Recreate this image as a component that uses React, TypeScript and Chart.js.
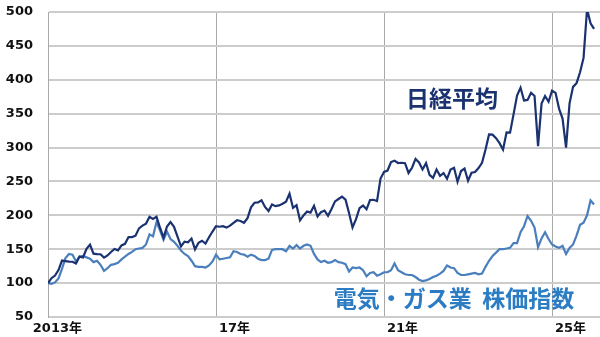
import React, { useEffect, useRef } from "react";
import { Chart, registerables } from "chart.js";

Chart.register(...registerables);

// Month index 0 = Dec 2012 (base = 100), monthly to Dec 2025
const nikkei: number[] = [
  100,
  107.2, 111.2, 119.3, 133.3, 132.5, 131.6, 131.5, 128.8, 139.1, 137.8, 150.7, 156.7,
  143.5, 142.8, 142.6, 137.6, 140.8, 145.9, 150.3, 148.4, 155.6, 157.9, 168, 167.9,
  170, 180.8, 184.8, 187.8, 197.8, 194.7, 198, 181.7, 167.3, 183.6, 190, 183.1,
  168.5, 154.2, 161.2, 160.3, 165.8, 149.8, 159.4, 162.5, 158.3, 167.6, 176.1, 183.9,
  183.2, 183.9, 181.9, 184.7, 189, 192.7, 191.7, 189, 195.8, 211.8, 218.6, 219,
  222.2, 212.3, 206.4, 216.1, 213.6, 214.6, 217, 220, 232, 210.9, 215, 192.5,
  199.8, 205.7, 204, 214.1, 198.2, 204.7, 207, 199.2, 209.3, 220.6, 224.1, 227.6,
  223.2, 203.4, 182, 194.3, 210.5, 214.4, 208.9, 222.6, 223, 221, 254.3, 264,
  266.1, 278.7, 280.7, 277.2, 277.6, 277, 262.5, 270.2, 283.3, 278, 267.7, 277,
  259.8, 255.2, 267.6, 258.3, 262.4, 253.9, 267.5, 270.2, 249.5, 265.4, 269.1, 251,
  262.9, 264, 269.8, 277.6, 297.2, 319.3, 319.1, 313.8, 306.5, 296.9, 322.2, 321.9,
  349, 376.8, 388.4, 369.5, 370.3, 380.8, 376.2, 302, 364.8, 376, 367.6, 383.8,
  380.7, 357.5, 342.7, 300, 365.2, 389.5, 395, 411, 432.3, 504.2, 483.4, 475,
];

const electricGas: number[] = [
  100,
  99, 101, 107, 121, 137, 143, 142, 132, 139, 140, 138, 136,
  131, 133, 127, 118, 122, 127, 128, 130, 135, 139, 143, 146,
  150, 151, 152, 157, 172, 169, 190, 178, 164, 176, 165, 161,
  155, 148, 143, 140, 133, 125, 124, 124, 123, 126, 132, 142,
  135, 136, 137, 138, 147, 146, 143, 142, 139, 142, 140, 136,
  134, 134, 136, 149, 150, 150, 150, 147, 155, 151, 156, 151,
  155, 157, 155, 143, 135, 131, 133, 130, 131, 134, 131, 130,
  128, 117, 123, 122, 123, 119, 110, 115, 116, 111, 113, 116,
  116, 119, 129, 119, 116, 113, 112, 112, 109, 105, 103, 104,
  106, 109, 111, 114, 118, 126, 123, 122, 115, 112, 112, 113,
  114, 115, 113, 114, 124, 133, 140, 145, 150, 150, 151, 152,
  159, 159, 175, 184, 199, 192, 182, 153, 166, 175, 165, 157,
  154, 152, 155, 143, 152, 157, 170, 186, 189, 200, 222, 216,
];

const xTickValues: number[] = [0, 48, 96, 144];
const xTickLabels: string[] = ["2013年", "17年", "21年", "25年"];

const seriesNames: string[] = ["日経平均", "電気・ガス業  株価指数"];
// label anchor in data coordinates [monthIndex, value]
const labelAnchors: number[][] = [
  [115.4, 372],
  [116, 78],
];

const NAVY = "#1b3270";
const LINE_BLUE = "#4a7fbd";
const TEXT_BLUE = "#2b7cc3";

const labelPlugin = {
  id: "seriesLabels",
  afterDatasetsDraw(chart: any) {
    const { ctx, scales } = chart;
    const colors = [NAVY, TEXT_BLUE];
    ctx.save();
    ctx.font = 'bold 23px "Noto Sans CJK JP", "DejaVu Sans", sans-serif';
    ctx.textAlign = "center";
    ctx.textBaseline = "middle";
    seriesNames.forEach((name, i) => {
      const px = scales.x.getPixelForValue(labelAnchors[i][0]);
      const py = scales.y.getPixelForValue(labelAnchors[i][1]);
      ctx.fillStyle = colors[i];
      ctx.fillText(name, px, py);
    });
    ctx.restore();
  },
};

export default function App() {
  const ref = useRef<HTMLCanvasElement | null>(null);

  useEffect(() => {
    if (!ref.current) return;
    const chart = new Chart(ref.current, {
      type: "line",
      data: {
        datasets: [
          {
            label: seriesNames[0],
            data: nikkei.map((v, i) => ({ x: i, y: v })),
            borderColor: NAVY,
            borderWidth: 2.2,
            pointRadius: 0,
            tension: 0,
          },
          {
            label: seriesNames[1],
            data: electricGas.map((v, i) => ({ x: i, y: v })),
            borderColor: LINE_BLUE,
            borderWidth: 2.2,
            pointRadius: 0,
            tension: 0,
          },
        ],
      },
      options: {
        responsive: false,
        animation: false,
        layout: { padding: { top: 12, right: 0, left: 0, bottom: 0 } },
        plugins: {
          legend: { display: false },
          tooltip: { enabled: false },
        },
        scales: {
          x: {
            type: "linear",
            min: 0,
            max: 157.7,
            afterBuildTicks: (scale: any) => {
              scale.ticks = xTickValues.map((v) => ({ value: v }));
            },
            afterFit: (scale: any) => {
              scale.height = 20;
              scale.paddingLeft = 0;
              scale.paddingRight = 0;
              scale.paddingTop = 0;
              scale.paddingBottom = 0;
            },
            ticks: {
              callback: (v: any) => {
                const k = xTickValues.indexOf(Number(v));
                return k >= 0 ? xTickLabels[k] : "";
              },
              align: "end",
              labelOffset: 34,
              padding: 4,
              maxRotation: 0,
              autoSkip: false,
              color: "#111",
              font: { family: '"DejaVu Sans", "Noto Sans CJK JP", sans-serif', size: 13, weight: "bold" },
            },
            grid: { color: "#a9a9a9", lineWidth: 1, drawTicks: false },
            border: { display: false },
          },
          y: {
            min: 50,
            max: 500,
            afterFit: (scale: any) => {
              scale.width = 48;
              scale.paddingTop = 0;
              scale.paddingBottom = 0;
              scale.paddingLeft = 0;
              scale.paddingRight = 0;
            },
            ticks: {
              stepSize: 50,
              padding: 15,
              color: "#111",
              font: { family: '"DejaVu Sans", sans-serif', size: 13, weight: "bold" },
            },
            grid: { color: "#cccccc", lineWidth: 2, drawTicks: false },
            border: { display: true, color: "#a9a9a9", width: 1 },
          },
        },
      },
      plugins: [labelPlugin],
    });
    return () => chart.destroy();
  }, []);

  return (
    <div style={{ position: "absolute", left: 0, top: 0, width: 600, height: 337, background: "#fff" }}>
      <canvas ref={ref} width={600} height={337} style={{ display: "block" }} />
    </div>
  );
}
